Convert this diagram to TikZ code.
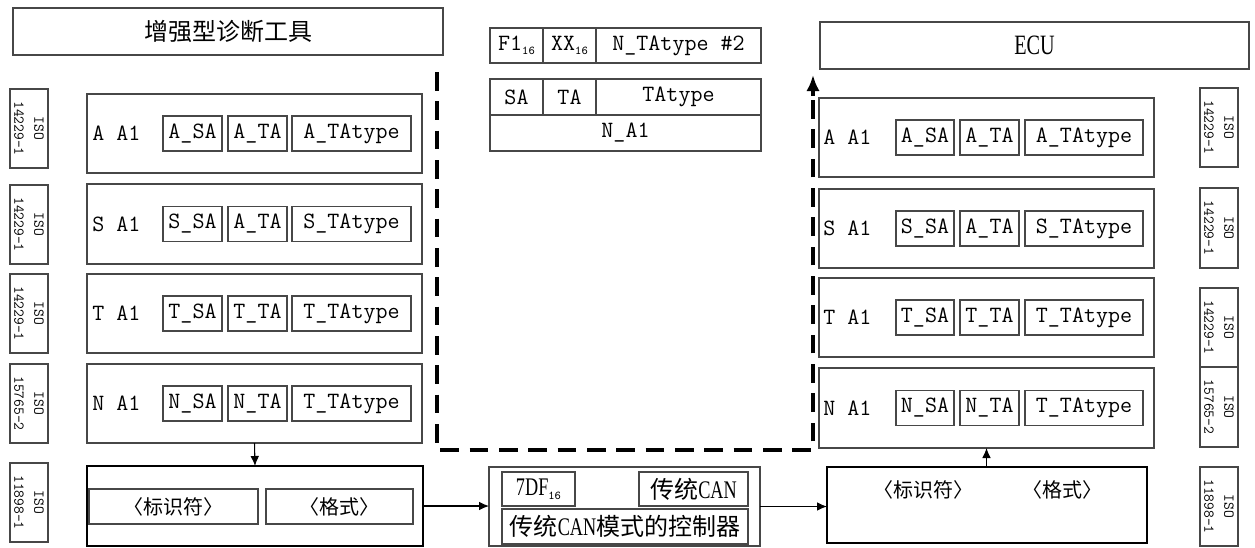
\documentclass[tikz,border=0pt]{standalone}
\usepackage{fontspec}
\newfontfamily\cjk{Noto Sans CJK SC}
\newfontfamily\nserif[FakeStretch=0.72]{Liberation Serif}
\usetikzlibrary{arrows.meta}
\newcommand\sixteen{\raisebox{-0.35ex}{\ttfamily\fontsize{9}{9}\selectfont 16}}
\newcommand\pxbox[6][]{\node[pb,#1,minimum width={((#5)-(#3))*0.75pt},minimum height={((#6)-(#4))*0.75pt}] (#2) at ({((#3)+(#5))/2},{((#4)+(#6))/2})}
\newcommand\isobox[6]{\node[pb,isotext,rotate=-90,minimum width={((#5)-(#3))*0.75pt},minimum height={((#4)-(#2))*0.75pt}] (#1) at ({((#2)+(#4))/2},{((#3)+(#5))/2}) {ISO\\#6};}
\tikzset{
  pb/.style={draw=black!72, line width=0.8pt, inner sep=0pt, outer sep=0pt, font=\ttfamily\fontsize{17.5}{20}\selectfont},
  isotext/.style={align=center, font=\ttfamily\fontsize{11.3}{15}\selectfont},
  idbox/.style={draw=black, line width=1.1pt},
  lbl/.style={inner sep=0pt, anchor=west, font=\ttfamily\fontsize{17.5}{20}\selectfont},
  cjktitle/.style={font=\cjk\fontsize{18}{20}\selectfont},
  cjkid/.style={font=\cjk\fontsize{15}{18}\selectfont},
  arr/.style={draw=black, line width=0.8pt, -{Latex[length=7.5pt,width=6.5pt]}},
  dashline/.style={draw=black, line width=2.4pt, dash pattern=on 14pt off 8pt},
  bigarr/.style={draw=black, line width=2.4pt, -{Latex[length=12pt,width=10pt]}}
}
\begin{document}
\begin{tikzpicture}[x=0.75pt,y=-0.75pt]
\useasboundingbox (0,0) rectangle (1255,547);
% titles
\pxbox[cjktitle]{title}{13}{8}{443}{55} {增强型诊断工具};
\pxbox{ecu}{820}{22}{1249}{69} {\nserif\fontsize{21}{22}\selectfont ECU};
% left rows
\foreach \n/\ya/\yb/\sa/\ta/\tt in {A/94/173/A\_SA/A\_TA/A\_TAtype,S/184/264/S\_SA/A\_TA/S\_TAtype,T/274/353/T\_SA/T\_TA/T\_TAtype,N/364/443/N\_SA/N\_TA/T\_TAtype}{
  \pxbox{rowL\n}{87}{\ya}{422}{\yb} {};
  \node[lbl] (lblL\n) at (92,{(\ya+\yb)/2}) {\n\ A1};
  \pxbox{saL\n}{163}{(\ya+\yb)/2-17.5}{222}{(\ya+\yb)/2+17.5} {\sa};
  \pxbox{taL\n}{228}{(\ya+\yb)/2-17.5}{287}{(\ya+\yb)/2+17.5} {\ta};
  \pxbox{ttL\n}{292}{(\ya+\yb)/2-17.5}{411}{(\ya+\yb)/2+17.5} {\tt};
}
% right rows
\foreach \n/\ya/\yb/\sa/\ta/\tt in {A/98/177/A\_SA/A\_TA/A\_TAtype,S/189/268/S\_SA/A\_TA/S\_TAtype,T/278/357/T\_SA/T\_TA/T\_TAtype,N/368/448/N\_SA/N\_TA/T\_TAtype}{
  \pxbox{rowR\n}{819}{\ya}{1154}{\yb} {};
  \node[lbl] (lblR\n) at (823,{(\ya+\yb)/2}) {\n\ A1};
  \pxbox{saR\n}{896}{(\ya+\yb)/2-17.5}{954}{(\ya+\yb)/2+17.5} {\sa};
  \pxbox{taR\n}{960}{(\ya+\yb)/2-17.5}{1019}{(\ya+\yb)/2+17.5} {\ta};
  \pxbox{ttR\n}{1025}{(\ya+\yb)/2-17.5}{1143}{(\ya+\yb)/2+17.5} {\tt};
}
% ISO boxes
\isobox{isoL1}{10}{89}{48}{168}{14229-1}
\isobox{isoL2}{10}{185}{48}{264}{14229-1}
\isobox{isoL3}{10}{274}{48}{353}{14229-1}
\isobox{isoL4}{10}{364}{48}{443}{15765-2}
\isobox{isoL5}{10}{463}{48}{542}{11898-1}
\isobox{isoR1}{1200}{88}{1238}{167}{14229-1}
\isobox{isoR2}{1200}{188}{1238}{268}{14229-1}
\isobox{isoR3}{1200}{288}{1238}{367}{14229-1}
\isobox{isoR4}{1200}{367}{1238}{447}{15765-2}
\isobox{isoR5}{1200}{467}{1238}{546}{11898-1}
% middle top tables
\pxbox{f1}{490}{28}{543}{63} {F1\sixteen};
\pxbox{xx}{543}{28}{596}{63} {XX\sixteen};
\pxbox{ntt}{596}{28}{761}{63} {N\_TAtype \#2};
\pxbox{sa}{490}{79}{543}{115} {SA};
\pxbox{ta}{543}{79}{596}{115} {TA};
\pxbox{tat}{596}{79}{761}{115} {TAtype};
\pxbox{na1}{490}{115}{761}{151} {N\_A1};
% identifier boxes
\pxbox[idbox]{idL}{87}{466}{423}{546} {};
\pxbox[cjkid]{idLa}{89}{489}{258}{524} {〈标识符〉};
\pxbox[cjkid]{idLb}{266}{489}{413}{524} {〈格式〉};
\pxbox[idbox]{idR}{827}{467}{1147}{543} {};
\node[cjkid, inner sep=0pt] (idRa) at (923,490) {〈标识符〉};
\node[cjkid, inner sep=0pt] (idRb) at (1062,490) {〈格式〉};
% middle bottom controller
\pxbox{mid}{489}{467}{760}{546} {};
\pxbox{m7df}{502}{472}{575}{506} {\nserif\fontsize{19}{20}\selectfont 7DF\sixteen};
\pxbox{mcan}{639}{472}{748}{506} {\cjk\fontsize{18}{20}\selectfont 传统{\nserif\fontsize{19}{20}\selectfont CAN}};
\pxbox{mctl}{502}{509}{748}{544} {\cjk\fontsize{18}{20}\selectfont 传统{\nserif\fontsize{19}{20}\selectfont CAN}模式的控制器};
% connectors
\draw[arr] (rowLN.south) -- (idL.north);
\draw[arr] (idL.east) -- (idL.east -| mid.west);
\draw[arr] (mid.east) -- (mid.east -| idR.west);
\draw[arr] (idR.north -| rowRN.south) -- (rowRN.south);
% dashed path
\coordinate (d1) at (437,72);
\coordinate (d2) at (437,450);
\coordinate (d3) at (813,450);
\coordinate (d5) at (813,96);
\coordinate (d4) at (813,75);
\draw[dashline] (d1) -- (d2) -- (d3) -- (d5);
\draw[bigarr] (d5) -- (d4);
\end{tikzpicture}
\end{document}
